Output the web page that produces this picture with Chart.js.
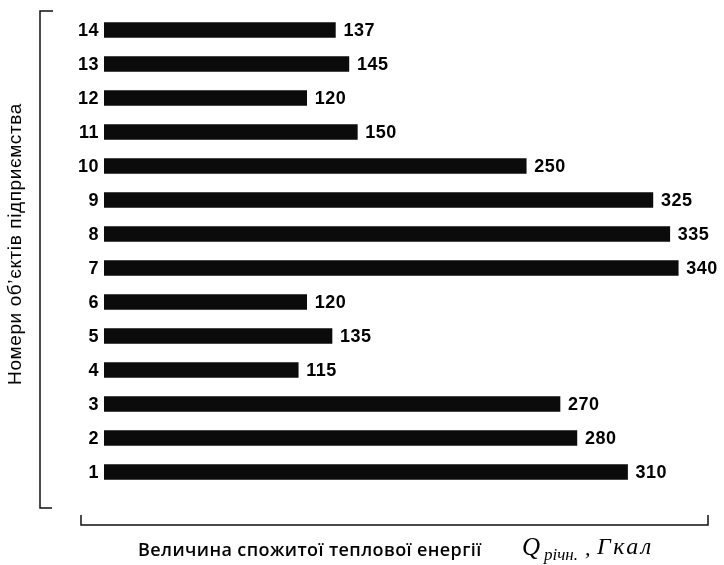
<!DOCTYPE html>
<html>
<head>
<meta charset="utf-8">
<script src="https://cdn.jsdelivr.net/npm/chart.js@4.4.0/dist/chart.umd.min.js"></script>
<style>
html,body{margin:0;padding:0;background:#fff;}
#wrap{width:724px;height:565px;position:relative;}
</style>
</head>
<body>
<div id="wrap"><canvas id="c" width="724" height="565"></canvas></div>
<script>
const categories = ['1','2','3','4','5','6','7','8','9','10','11','12','13','14'];
const values = [310, 280, 270, 115, 135, 120, 340, 335, 325, 250, 150, 120, 145, 137];
const yTitle = 'Номери об’єктів підприємства';
const xTitle = 'Величина спожитої теплової енергії';

const decor = {
  id: 'decor',
  afterDraw(chart) {
    const ctx = chart.ctx;
    const ys = chart.scales.y;
    const meta = chart.getDatasetMeta(0);
    ctx.save();
    ctx.fillStyle = '#000';
    ctx.textBaseline = 'middle';
    // category labels
    ctx.font = 'bold 18px "Liberation Sans", Arial, sans-serif';
    ctx.letterSpacing = '0.5px';
    ctx.textAlign = 'right';
    categories.forEach((c, i) => {
      ctx.fillText(c, 99, ys.getPixelForValue(i) + 1);
    });
    // value labels
    ctx.textAlign = 'left';
    meta.data.forEach((bar, i) => {
      ctx.fillText(String(values[i]), bar.x + 8, bar.y + 1);
    });
    ctx.letterSpacing = '0px';
    // brackets
    ctx.strokeStyle = '#111';
    ctx.lineWidth = 1.5;
    ctx.beginPath();
    ctx.moveTo(53, 11); ctx.lineTo(40, 11); ctx.lineTo(40, 508); ctx.lineTo(52, 508);
    ctx.stroke();
    ctx.beginPath();
    ctx.moveTo(81, 515); ctx.lineTo(81, 525); ctx.lineTo(708, 525); ctx.lineTo(708, 515);
    ctx.stroke();
    // y title
    ctx.save();
    ctx.translate(16, 244);
    ctx.rotate(-Math.PI / 2);
    ctx.textAlign = 'center';
    ctx.font = '19px "Liberation Sans", Arial, sans-serif';
    ctx.letterSpacing = '0.6px';
    ctx.fillText(yTitle, 0, 0);
    ctx.restore();
    // x title
    ctx.textAlign = 'left';
    ctx.font = '600 18px "Open Sans", sans-serif';
    ctx.letterSpacing = '0.4px';
    ctx.fillText(xTitle, 138, 551);
    ctx.letterSpacing = '0px';
    ctx.font = 'italic 25px "Liberation Serif", serif';
    ctx.fillText('Q', 522, 548);
    ctx.font = 'italic 17px "Liberation Serif", serif';
    ctx.fillText('річн.', 544, 556);
    ctx.font = 'italic 22px "Liberation Serif", serif';
    ctx.fillText(',', 585, 549);
    ctx.font = 'italic 24px "Liberation Serif", serif';
    ctx.letterSpacing = '2.5px';
    ctx.fillText('Гкал', 597, 548);
    ctx.restore();
  }
};

new Chart(document.getElementById('c'), {
  type: 'bar',
  data: {
    labels: categories,
    datasets: [{
      data: values,
      backgroundColor: '#0b0b0b',
      borderWidth: 0,
      barThickness: 15
    }]
  },
  options: {
    indexAxis: 'y',
    responsive: false,
    animation: false,
    layout: { padding: { left: 104, top: 13, right: 12, bottom: 76 } },
    plugins: { legend: { display: false }, tooltip: { enabled: false } },
    scales: {
      x: { display: false, min: 0, max: 360 },
      y: { display: false, reverse: true }
    }
  },
  plugins: [decor]
});
</script>
</body>
</html>
